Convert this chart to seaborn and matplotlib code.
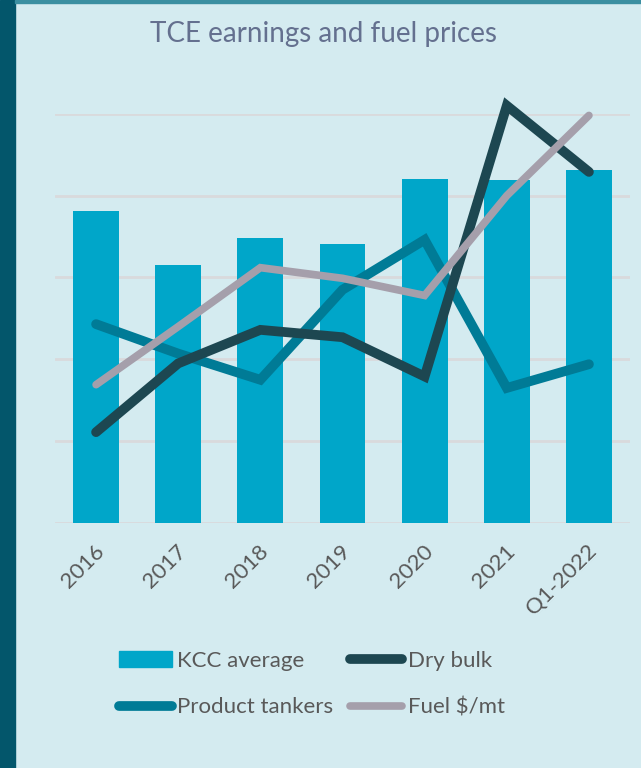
import matplotlib
matplotlib.use("Agg")
import matplotlib.pyplot as plt
import matplotlib.transforms as mtransforms
from matplotlib.patches import Rectangle
from matplotlib.lines import Line2D
import seaborn as sns
import pandas as pd

# Index values (relative scale, gridline every 1 unit)
periods = ["2016", "2017", "2018", "2019", "2020", "2021", "Q1-2022"]
kcc_average = [3.81, 3.15, 3.48, 3.41, 4.20, 4.19, 4.31]
dry_bulk = [1.11, 1.95, 2.36, 2.27, 1.79, 5.10, 4.29]
product_tankers = [2.43, 2.07, 1.75, 2.85, 3.46, 1.65, 1.94]
fuel_price = [1.69, 2.40, 3.12, 2.99, 2.78, 4.00, 4.98]

BG = "#d4ebf0"
BAR = "#00a6c9"
DRY = "#1d4751"
PROD = "#007b96"
FUEL = "#a59fab"
GRID = "#d9dadc"
TXT = "#595959"
TITLE = "#64708f"

sns.set_theme(style="white")
plt.rcParams["font.family"] = ["Lato", "DejaVu Sans"]

df = pd.DataFrame({
    "period": periods,
    "KCC average": kcc_average,
    "Dry bulk": dry_bulk,
    "Product tankers": product_tankers,
    "Fuel $/mt": fuel_price,
})
df["pos"] = range(len(periods))

fig = plt.figure(figsize=(6.41, 7.68), dpi=100, facecolor=BG)
ax = fig.add_axes([55 / 641, 1 - 523 / 768, 575 / 641, (523 - 113.8) / 768])
ax.set_facecolor(BG)

# Frame decorations: dark strip on the left, thin band on top
fig.patches.append(Rectangle((0, 0), 15 / 641, 1, transform=fig.transFigure,
                             color="#03566b", zorder=0))
fig.patches.append(Rectangle((15 / 641, 1 - 3 / 768), 1, 3 / 768,
                             transform=fig.transFigure, color="#3b8fa1", zorder=0))

sns.barplot(data=df, x="period", y="KCC average", color=BAR, width=0.557,
            saturation=1, linewidth=0, edgecolor=BAR, ax=ax, zorder=2)

for col, colr, lw in [("Product tankers", PROD, 7.0),
                      ("Dry bulk", DRY, 7.0),
                      ("Fuel $/mt", FUEL, 5.5)]:
    sns.lineplot(data=df, x="pos", y=col, color=colr, linewidth=lw, ax=ax,
                 solid_capstyle="round", solid_joinstyle="miter",
                 clip_on=False, zorder=3)

ax.set_xlim(-0.5, len(periods) - 0.5)
ax.set_ylim(0, 5)
ax.set_yticks([0, 1, 2, 3, 4, 5])
ax.yaxis.grid(True, color=GRID, linewidth=2)
ax.set_axisbelow(True)
ax.tick_params(axis="y", left=False, labelleft=False)
ax.tick_params(axis="x", bottom=False, pad=7, labelsize=16, colors=TXT)
for s in ax.spines.values():
    s.set_visible(False)
ax.set_xlabel("")
ax.set_ylabel("")
ax.set_xticks(range(len(periods)))
ax.set_xticklabels(periods, rotation=45, ha="right", va="top",
                   rotation_mode="anchor")
offset = mtransforms.ScaledTranslation(-2 / 100, 0, fig.dpi_scale_trans)
for lab in ax.get_xticklabels():
    lab.set_transform(lab.get_transform() + offset)

fig.text(324 / 641, 1 - 34 / 768, "TCE earnings and fuel prices",
         ha="center", va="center", fontsize=20, color=TITLE)

# Legend entries ordered so that rows read: KCC / Dry bulk, Product / Fuel
handles = [
    Rectangle((0, 0), 1, 1, color=BAR),
    Line2D([], [], color=PROD, linewidth=7, solid_capstyle="round"),
    Line2D([], [], color=DRY, linewidth=7, solid_capstyle="round"),
    Line2D([], [], color=FUEL, linewidth=5.5, solid_capstyle="round"),
]
labels = ["KCC average", "Product tankers", "Dry bulk", "Fuel $/mt"]
leg = fig.legend(handles, labels, ncol=2, loc="center",
                 bbox_to_anchor=(312 / 641, 1 - 684 / 768),
                 frameon=False, fontsize=16, labelcolor=TXT,
                 handlelength=2.35, handletextpad=0.25, columnspacing=0.75,
                 labelspacing=1.2)

fig.savefig("out.png", dpi=100, facecolor=BG)
